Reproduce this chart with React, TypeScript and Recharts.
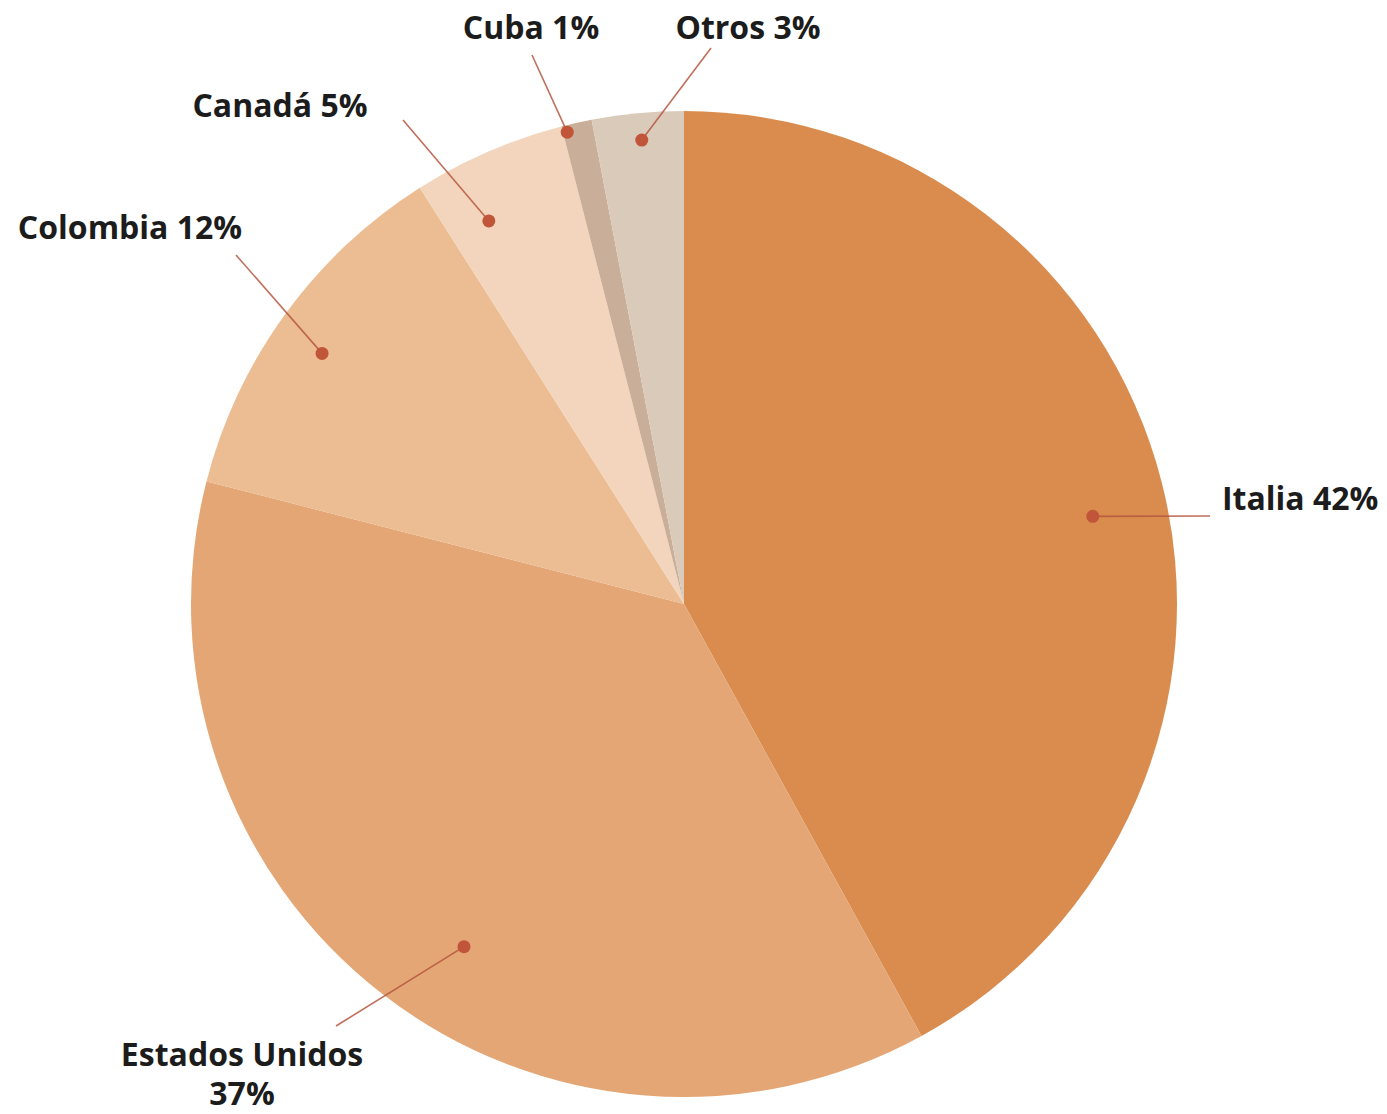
import React from 'react';
import { PieChart, Pie, Cell } from 'recharts';

const countries = ['Italia', 'Estados Unidos', 'Colombia', 'Canadá', 'Cuba', 'Otros'];
const shares = [42, 37, 12, 5, 1, 3];
const sliceColors = ['#D98C4E', '#E4A674', '#ECBD93', '#F2D5BC', '#C9AF9A', '#DACAB9'];

const data = countries.map((name, i) => ({ name, value: shares[i] }));

// label annotation layout (relative to pie centre): dot radius factor, dot angle shift,
// leader end point, text anchor point and text lines offsets
const labelLayout: Record<string, any> = {
  Italia: { rf: 0.848, shift: -2.3, end: [526, -88], text: [538, -107], anchor: 'start', lines: 1 },
  'Estados Unidos': { rf: 0.826, shift: 5.1, end: [-348, 422], text: [-442, 449], anchor: 'middle', lines: 2 },
  Colombia: { rf: 0.893, shift: 1.3, end: [-448, -349], text: [-554, -378], anchor: 'middle', lines: 1 },
  'Canadá': { rf: 0.872, shift: 3.6, end: [-281, -484], text: [-404, -500], anchor: 'middle', lines: 1 },
  Cuba: { rf: 0.986, shift: 1.3, end: [-152, -549], text: [-153, -578], anchor: 'middle', lines: 1 },
  Otros: { rf: 0.945, shift: -0.2, end: [27, -556], text: [64, -578], anchor: 'middle', lines: 1 },
};

const RAD = Math.PI / 180;

const renderLabel = (props: any) => {
  const { cx, cy, midAngle, outerRadius, name, value } = props;
  const L = labelLayout[name];
  if (!L) return null;
  const a = (midAngle + L.shift) * RAD;
  const r = outerRadius * L.rf;
  const dx = cx + r * Math.cos(a);
  const dy = cy - r * Math.sin(a);
  const ex = cx + L.end[0];
  const ey = cy + L.end[1];
  const tx = cx + L.text[0];
  const ty = cy + L.text[1];
  const textStyle = {
    fontFamily: '"Open Sans", sans-serif',
    fontWeight: 700,
    fontSize: 32,
    fill: '#1c1c1c',
  } as any;
  return (
    <g key={name}>
      <line x1={dx} y1={dy} x2={ex} y2={ey} stroke="#b5563f" strokeWidth={1.6} strokeOpacity={0.85} />
      <circle cx={dx} cy={dy} r={6.5} fill="#c0553a" />
      {L.lines === 2 ? (
        <text x={tx} y={ty} textAnchor={L.anchor} dominantBaseline="central" style={textStyle}>
          <tspan x={tx} dy={0}>{name}</tspan>
          <tspan x={tx} dy={39}>{value}%</tspan>
        </text>
      ) : (
        <text x={tx} y={ty} textAnchor={L.anchor} dominantBaseline="central" style={textStyle}>
          {name} {value}%
        </text>
      )}
    </g>
  );
};

export default function App() {
  return (
    <div style={{ position: 'absolute', left: 0, top: 0, width: 1387, height: 1114, background: '#ffffff' }}>
      <PieChart width={1387} height={1114} margin={{ top: 0, right: 0, bottom: 0, left: 0 }}>
        <Pie
          data={data}
          dataKey="value"
          nameKey="name"
          cx={684}
          cy={604}
          outerRadius={493}
          startAngle={90}
          endAngle={-270}
          stroke="none"
          isAnimationActive={false}
          labelLine={false}
          label={renderLabel}
        >
          {data.map((d, i) => (
            <Cell key={d.name} fill={sliceColors[i]} />
          ))}
        </Pie>
      </PieChart>
    </div>
  );
}
